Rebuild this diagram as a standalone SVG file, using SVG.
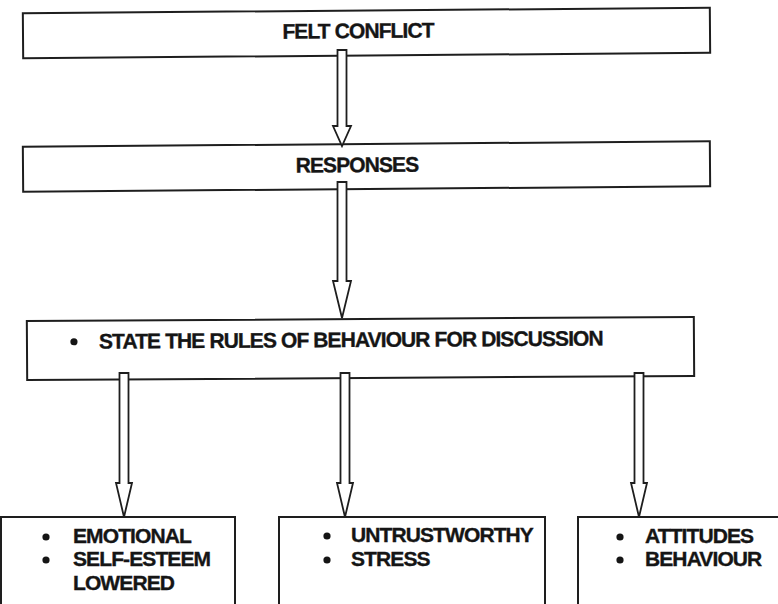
<svg xmlns="http://www.w3.org/2000/svg" width="778" height="604" viewBox="0 0 778 604">
<style>
.box{fill:#fff;stroke:#1e1e1e;stroke-width:2}
.arr{fill:#fff;stroke:#1e1e1e;stroke-width:1.8;stroke-linejoin:miter}
text{font-family:"Liberation Sans",Arial,sans-serif;font-weight:bold;font-size:21px;letter-spacing:-0.9px;fill:#151515;stroke:#151515;stroke-width:0.35}
.c{text-anchor:middle}
.dot{fill:#151515}
</style>
<rect width="778" height="604" fill="#fff"/>
<g id="felt-conflict" transform="rotate(-0.45 366 33)">
<rect class="box" x="23" y="10.5" width="687" height="45"/>
<text class="c" x="358" y="38">FELT CONFLICT</text>
</g>
<g id="responses" transform="rotate(-0.45 366 166.5)">
<rect class="box" x="23" y="144" width="687" height="45"/>
<text class="c" x="357" y="172">RESPONSES</text>
</g>
<g id="rules" transform="rotate(-0.35 360.5 348.5)">
<rect class="box" x="27" y="319" width="667" height="59"/>
<circle class="dot" cx="74" cy="340" r="3.6"/>
<text x="99" y="347">STATE THE RULES OF BEHAVIOUR FOR DISCUSSION</text>
</g>
<g id="emotional">
<rect class="box" x="1" y="517" width="234" height="100"/>
<circle class="dot" cx="46" cy="537" r="3.6"/>
<text x="73" y="543">EMOTIONAL</text>
<circle class="dot" cx="46" cy="560" r="3.6"/>
<text x="73" y="566">SELF-ESTEEM</text>
<text x="73" y="590">LOWERED</text>
</g>
<g id="untrustworthy">
<rect class="box" x="279" y="517" width="266" height="100"/>
<circle class="dot" cx="327" cy="536" r="3.6"/>
<text x="351" y="542">UNTRUSTWORTHY</text>
<circle class="dot" cx="327" cy="560" r="3.6"/>
<text x="351" y="566">STRESS</text>
</g>
<g id="attitudes">
<rect class="box" x="578" y="517" width="212" height="100"/>
<circle class="dot" cx="620" cy="537" r="3.6"/>
<text x="645" y="543">ATTITUDES</text>
<circle class="dot" cx="620" cy="560" r="3.6"/>
<text x="645" y="566">BEHAVIOUR</text>
</g>
<g id="connectors">
<path class="arr" d="M337.5 50 L337.5 126 L333 126 L342 146 L351 126 L346.5 126 L346.5 50 Z"/>
<path class="arr" d="M337.5 182 L337.5 281 L333 281 L342 318 L351 281 L346.5 281 L346.5 182 Z"/>
<path class="arr" d="M119.5 373 L119.5 483 L116 483 L124 517 L132 483 L128.5 483 L128.5 373 Z"/>
<path class="arr" d="M340.5 373 L340.5 483 L337 483 L345 517 L353 483 L349.5 483 L349.5 373 Z"/>
<path class="arr" d="M634.5 373 L634.5 483 L631 483 L639 517 L647 483 L643.5 483 L643.5 373 Z"/>
</g>
</svg>
